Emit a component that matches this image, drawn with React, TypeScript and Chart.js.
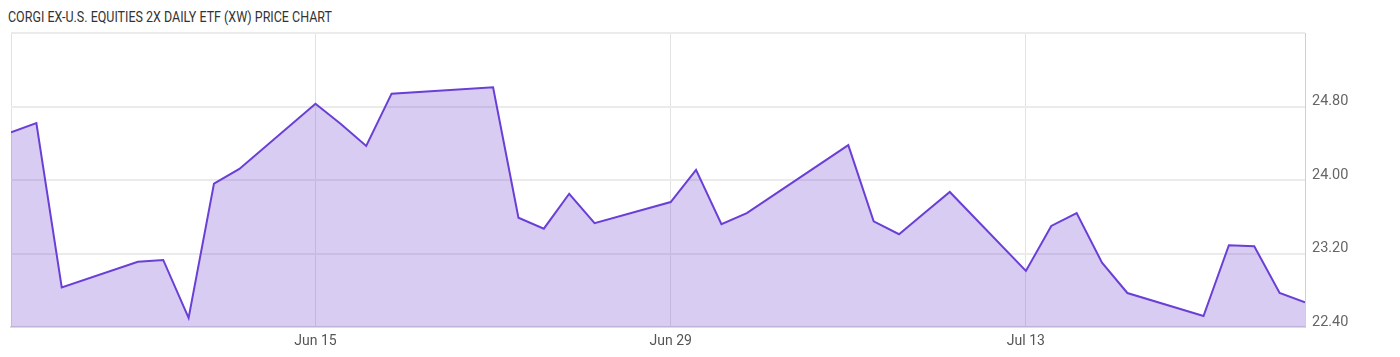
import React, { useEffect, useRef } from 'react';
import { Chart, registerables } from 'chart.js';

Chart.register(...registerables);

const title = 'CORGI EX-U.S. EQUITIES 2X DAILY ETF (XW) PRICE CHART';

const dates = [
  '2026-06-03', '2026-06-04', '2026-06-05', '2026-06-08', '2026-06-09', '2026-06-10',
  '2026-06-11', '2026-06-12', '2026-06-15', '2026-06-16', '2026-06-17', '2026-06-18',
  '2026-06-22', '2026-06-23', '2026-06-24', '2026-06-25', '2026-06-26', '2026-06-29',
  '2026-06-30', '2026-07-01', '2026-07-02', '2026-07-06', '2026-07-07', '2026-07-08',
  '2026-07-09', '2026-07-10', '2026-07-13', '2026-07-14', '2026-07-15', '2026-07-16',
  '2026-07-17', '2026-07-20', '2026-07-21', '2026-07-22', '2026-07-23', '2026-07-24',
];

const prices = [
  24.52, 24.62, 22.83, 23.11, 23.13, 22.5,
  23.96, 24.12, 24.83, 24.61, 24.37, 24.94,
  25.01, 23.59, 23.47, 23.85, 23.53, 23.76,
  24.11, 23.52, 23.64, 24.38, 23.55, 23.41,
  23.64, 23.87, 23.01, 23.5, 23.64, 23.1,
  22.77, 22.52, 23.29, 23.28, 22.77, 22.67,
];

const tickDates = ['2026-06-15', '2026-06-29', '2026-07-13'];
const tickLabels = ['Jun 15', 'Jun 29', 'Jul 13'];

const yMin = 22.4;
const yMax = 25.6;
const yStep = 0.8;

const startDate = dates[0];
const endDate = dates[dates.length - 1];

function dayIndex(d: string): number {
  const t = Date.parse(d + 'T00:00:00Z');
  const t0 = Date.parse(startDate + 'T00:00:00Z');
  return Math.round((t - t0) / 86400000);
}

export default function App() {
  const canvasRef = useRef<HTMLCanvasElement | null>(null);

  useEffect(() => {
    if (!canvasRef.current) return;
    const points = dates.map((d, i) => ({ x: dayIndex(d), y: prices[i] }));
    const tickVals = tickDates.map(dayIndex);

    const chart = new Chart(canvasRef.current, {
      type: 'line',
      data: {
        datasets: [
          {
            data: points,
            borderColor: '#6a3fd6',
            backgroundColor: 'rgba(110, 66, 210, 0.27)',
            borderWidth: 2,
            fill: 'start',
            pointRadius: 0,
            tension: 0,
          },
        ],
      },
      options: {
        animation: false,
        responsive: true,
        maintainAspectRatio: false,
        layout: { padding: { top: 25, left: 0, right: 0, bottom: 0 } },
        plugins: {
          legend: { display: false },
          tooltip: { enabled: false },
          title: { display: false },
        },
        scales: {
          x: {
            type: 'linear',
            min: 0,
            max: dayIndex(endDate),
            afterBuildTicks: (scale: any) => {
              scale.ticks = [0, ...tickVals].map((v) => ({ value: v }));
            },
            afterFit: (scale: any) => {
              scale.height = 22;
            },
            grid: {
              color: '#e2e2e2',
              lineWidth: 1,
              drawTicks: false,
            },
            border: { display: true, color: '#dcdcdc', width: 2 },
            ticks: {
              autoSkip: false,
              maxRotation: 0,
              padding: 6,
              color: '#555',
              font: { family: 'Roboto', size: 14 },
              callback: (v: any) => {
                const i = tickVals.indexOf(Number(v));
                return i >= 0 ? tickLabels[i] : '';
              },
            },
          },
          y: {
            type: 'linear',
            position: 'right',
            min: yMin,
            max: yMax,
            afterFit: (scale: any) => {
              scale.width = 87;
            },
            grid: {
              color: '#ebebeb',
              lineWidth: 2,
              drawTicks: false,
            },
            border: { display: true, color: '#cfcfcf', width: 1 },
            ticks: {
              stepSize: yStep,
              padding: 7,
              labelOffset: -5,
              color: '#666',
              font: { family: 'Roboto', size: 14.5 },
              callback: (v: any) => {
                const n = Number(v);
                if (n >= yMax - 1e-6) return '';
                return n.toFixed(2);
              },
            },
          },
        },
      },
    });
    return () => chart.destroy();
  }, []);

  return (
    <div style={{ position: 'relative', width: '1384px', height: '341px' }}>
      <div
        style={{
          position: 'absolute',
          top: 0,
          left: 0,
          fontFamily: 'Roboto, sans-serif',
          fontSize: '15.5px',
          color: '#333',
          whiteSpace: 'nowrap',
          transform: 'scaleX(0.805)',
          transformOrigin: 'left top',
        }}
      >
        {title}
      </div>
      <div style={{ position: 'absolute', left: '-3px', top: 0, width: '1387px', height: '341px' }}>
        <canvas ref={canvasRef} />
      </div>
    </div>
  );
}
